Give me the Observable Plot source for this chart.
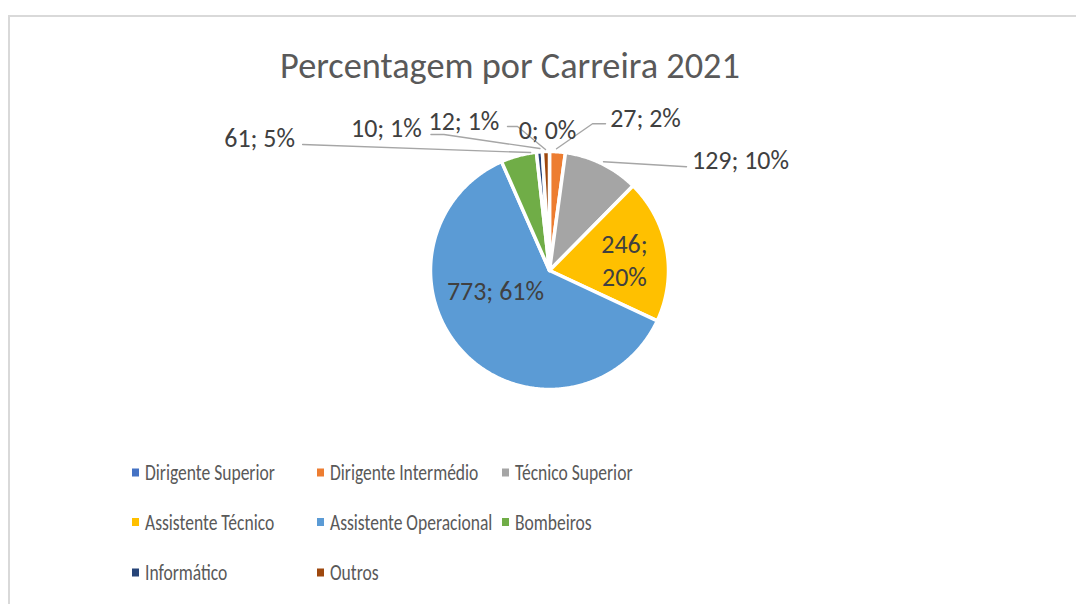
<!DOCTYPE html>
<html>
<head>
<meta charset="utf-8">
<script src="https://cdn.jsdelivr.net/npm/d3@7"></script>
<script src="https://cdn.jsdelivr.net/npm/@observablehq/plot@0.6"></script>
<style>
  html, body { margin: 0; padding: 0; background: #fff; }
  #chart { position: relative; width: 1076px; height: 604px; overflow: hidden; background: #fff; }
  #chart svg { position: absolute; left: 0; }
</style>
</head>
<body>
<div id="chart"></div>
<script>
// ---- data ----
const title = "Percentagem por Carreira 2021";
const categories = ["Dirigente Superior", "Dirigente Intermédio", "Técnico Superior", "Assistente Técnico", "Assistente Operacional", "Bombeiros", "Informático", "Outros"];
const counts = [0, 27, 129, 246, 773, 61, 10, 12];
const colors = ["#4472C4", "#ED7D31", "#A5A5A5", "#FFC000", "#5B9BD5", "#70AD47", "#264478", "#9E480E"];

// ---- label layout (pixel nudges relative to the slice's anchor point) ----
const labelLayout = [
  {r: 1,    dx: -2,    dy: -23,  leader: [[-42, -25], [-32, -25], [-4, -2]]},
  {r: 1,    dx: 88,    dy: -36,  leader: [[48, -28], [35, -28], [-1, -3]]},
  {r: 1,    dx: 138.5, dy: -6,   leader: [[84.5, 3], [1.5, -2]]},
  {r: 0.64, dx: 0,     dy: 1.5,  leader: null, multiline: true},
  {r: 0.5,  dx: -11.5, dy: -22.6, leader: null},
  {r: 1,    dx: -259,  dy: -19,  leader: [[-216, -11], [12, -3]]},
  {r: 1,    dx: -153,  dy: -26,  leader: null},
  {r: 1,    dx: -82,   dy: -32,  leader: [[-115, -17], [-102, -17], [-6, -3]]}
];

const FONT = "Calibri, Carlito, Lato, sans-serif";
const W = 1076, H = 604;
const R = 119, cx = 549, svgTop = 100, cy = 170; // pie center in plot svg coords

// text measurement helper
const ctx = document.createElement("canvas").getContext("2d");
function measure(text, size) { ctx.font = `${size}px ${FONT}`; return ctx.measureText(text).width; }

const container = d3.select("#chart");

// ---- decoration: border, title, legend ----
const deco = container.append("svg").attr("width", W).attr("height", H).style("top", "0px");
deco.append("path").attr("d", `M9,${H} V16 H${W}`).attr("fill", "none").attr("stroke", "#d9d9d9").attr("stroke-width", 2);

const titleSize = 100 * 460 / measure(title, 100);
deco.append("text").attr("x", 510).attr("y", 78).attr("text-anchor", "middle")
  .attr("font-family", FONT).attr("font-size", titleSize).attr("fill", "#595959").text(title);

const legSize = 22;
const legScale = 130 / measure("Dirigente Superior", legSize);
const colX = [132, 317, 502];
const rowBase = [480, 529.5, 580];
categories.forEach((c, i) => {
  const x = colX[i % 3], b = rowBase[Math.floor(i / 3)];
  deco.append("rect").attr("x", x).attr("y", b - 11.5).attr("width", 7).attr("height", 8).attr("fill", colors[i]);
  deco.append("text").attr("transform", `translate(${x + 13},${b}) scale(${legScale},1)`)
    .attr("font-family", FONT).attr("font-size", legSize).attr("fill", "#595959").text(c);
});

// ---- pie geometry from data ----
const total = d3.sum(counts);
const arcs = d3.pie().sort(null).value(d => d)(counts);
const slicePts = [];
arcs.forEach((a, i) => {
  slicePts.push({k: categories[i], x: 0, y: 0});
  const n = Math.max(1, Math.ceil((a.endAngle - a.startAngle) / (Math.PI / 360)));
  for (let j = 0; j <= n; j++) {
    const t = a.startAngle + (a.endAngle - a.startAngle) * j / n;
    slicePts.push({k: categories[i], x: Math.sin(t), y: Math.cos(t)});
  }
  slicePts.push({k: categories[i], x: 0, y: 0});
});

const labels = [], leaders = [];
arcs.forEach((a, i) => {
  const mid = (a.startAngle + a.endAngle) / 2;
  const L = labelLayout[i];
  const ax = Math.sin(mid), ay = Math.cos(mid);
  const pct = Math.round(counts[i] / total * 100);
  labels.push({
    x: ax * L.r + L.dx / R,
    y: ay * L.r - L.dy / R,
    text: L.multiline ? `${counts[i]};\n${pct}%` : `${counts[i]}; ${pct}%`
  });
  if (L.leader) L.leader.forEach(([dx, dy]) => leaders.push({k: categories[i], x: ax + dx / R, y: ay - dy / R}));
});

const labelSize = 24 * 97 / measure("129; 10%", 24);

const plot = Plot.plot({
  width: W,
  height: 330,
  x: {domain: [-1, 1], range: [cx - R, cx + R], axis: null},
  y: {domain: [-1, 1], range: [cy + R, cy - R], axis: null},
  color: {domain: categories, range: colors},
  style: {background: "transparent", overflow: "visible"},
  marks: [
    Plot.line(slicePts, {x: "x", y: "y", z: "k", fill: "k", stroke: "white", strokeWidth: 3.5, strokeLinejoin: "round"}),
    Plot.line(leaders, {x: "x", y: "y", z: "k", stroke: "#a6a6a6", strokeWidth: 1.4}),
    Plot.text(labels, {x: "x", y: "y", text: "text", fontSize: labelSize, fontFamily: FONT, fill: "#404040", lineHeight: 1.3})
  ]
});
plot.style.top = svgTop + "px";
container.node().appendChild(plot);
</script>
</body>
</html>
